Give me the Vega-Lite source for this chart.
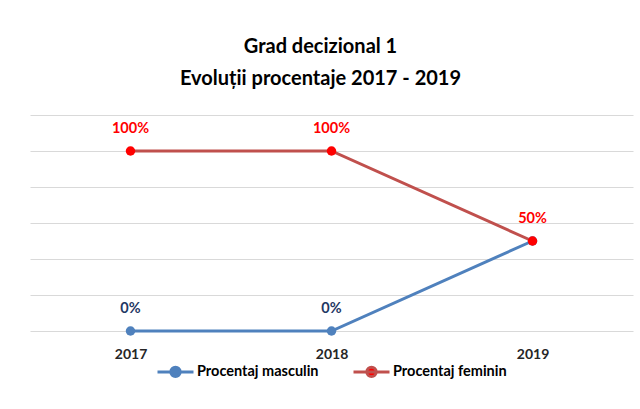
{
  "$schema": "https://vega.github.io/schema/vega-lite/v6.json",
  "width": 603,
  "height": 216,
  "autosize": {"type": "none"},
  "padding": {"left": 30, "top": 115, "right": 7, "bottom": 78},
  "background": "white",
  "config": {
    "font": "Lato",
    "view": {"stroke": null},
    "legend": {"layout": {"bottom": {"anchor": "middle"}}}
  },
  "title": {
    "text": ["Grad decizional 1", "Evoluții procentaje 2017 - 2019"],
    "fontSize": 20,
    "fontWeight": "bold",
    "color": "#000000",
    "lineHeight": 32,
    "anchor": "middle",
    "frame": "group",
    "offset": 26,
    "dx": -11
  },
  "data": {
    "values": [
      {"year": "2017", "series": "Procentaj masculin", "value": 0},
      {"year": "2018", "series": "Procentaj masculin", "value": 0},
      {"year": "2019", "series": "Procentaj masculin", "value": 0.5},
      {"year": "2017", "series": "Procentaj feminin", "value": 1},
      {"year": "2018", "series": "Procentaj feminin", "value": 1},
      {"year": "2019", "series": "Procentaj feminin", "value": 0.5}
    ]
  },
  "encoding": {
    "x": {
      "field": "year", "type": "ordinal",
      "scale": {"type": "point", "padding": 0.5},
      "axis": {"title": null, "labelAngle": 0, "ticks": false, "domain": false, "labelFontSize": 14, "labelFontWeight": "bold", "labelColor": "#262626", "labelPadding": 16, "grid": false}
    },
    "y": {
      "field": "value", "type": "quantitative",
      "scale": {"domain": [0, 1.2], "nice": false},
      "axis": {"title": null, "labels": false, "ticks": false, "domain": false, "values": [0, 0.2, 0.4, 0.6, 0.8, 1, 1.2], "gridColor": "#D9D9D9", "gridWidth": 1}
    }
  },
  "layer": [
    {
      "mark": {"type": "line", "strokeWidth": 3},
      "encoding": {
        "color": {
          "field": "series", "type": "nominal",
          "scale": {"domain": ["Procentaj masculin", "Procentaj feminin"], "range": ["#4F81BD", "#C0504D"]},
          "sort": ["Procentaj masculin", "Procentaj feminin"],
          "legend": {
            "title": null,
            "orient": "bottom",
            "direction": "horizontal",
            "offset": -9,
            "symbolType": "M-1,0L1,0M0.26,0A0.26,0.26,0,1,1,-0.26,0A0.26,0.26,0,1,1,0.26,0Z",
            "symbolSize": 1296,
            "symbolStrokeWidth": 3,
            "labelFontSize": 14.5,
            "labelFontWeight": "bold",
            "labelColor": "#000000",
            "labelOffset": 2,
            "columnPadding": 28,
            "encode": {
              "symbols": {
                "update": {
                  "fill": {"signal": "datum.value === 'Procentaj feminin' ? '#FF0000' : '#4F81BD'"},
                  "stroke": {"signal": "datum.value === 'Procentaj feminin' ? '#C0504D' : '#4F81BD'"},
                  "opacity": {"value": 1}
                }
              }
            }
          }
        }
      }
    },
    {
      "mark": {"type": "point", "filled": true, "size": 90, "opacity": 1},
      "encoding": {
        "color": {
          "condition": {"test": "datum.series === 'Procentaj feminin'", "value": "#FF0000"},
          "value": "#4F81BD"
        }
      }
    },
    {
      "transform": [{"filter": "!(datum.series === 'Procentaj masculin' && datum.year === '2019')"}],
      "mark": {"type": "text", "dy": -22, "fontSize": 14.5, "fontWeight": "bold"},
      "encoding": {
        "text": {"field": "value", "type": "quantitative", "format": ".0%"},
        "color": {
          "condition": {"test": "datum.series === 'Procentaj feminin'", "value": "#FF0000"},
          "value": "#1F3864"
        }
      }
    }
  ]
}
